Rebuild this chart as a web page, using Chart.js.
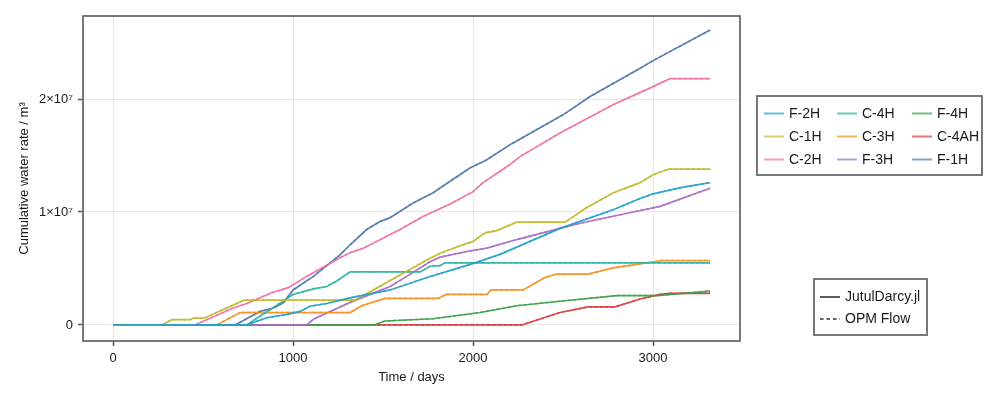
<!DOCTYPE html>
<html>
<head>
<meta charset="utf-8">
<script src="https://cdn.jsdelivr.net/npm/chart.js@4.4.1/dist/chart.umd.min.js"></script>
<style>
html,body{margin:0;padding:0;background:#fff;}
#wrap{width:1000px;height:400px;}
</style>
</head>
<body>
<div id="wrap"><canvas id="c" width="1000" height="400"></canvas></div>
<script>
// ---- data (days, cumulative water in m^3 / 1e6) ----
const wells = ['F-2H','C-1H','C-2H','C-4H','C-3H','F-3H','F-4H','C-4AH','F-1H'];
const wellColors = ['#21a0c8','#c0ba2a','#f071a5','#2bb3a3','#f7901e','#a86cc1','#3c9e47','#d8393b','#4f79ae'];

const F2H_t = [0,743,854,965,1039,1094,1187,1317,1539,1744,1889,2011,2150,2483,2778,2928,3000,3167,3317];
const F2H_v = [0,0,0.64,0.93,1.2,1.66,1.9,2.4,3.1,4.2,4.9,5.5,6.25,8.55,10.2,11.2,11.6,12.2,12.6];

const C1H_t = [0,270,326,428,445,505,728,1345,1761,1817,1909,2000,2067,2131,2242,2511,2632,2780,2928,3000,3089,3317];
const C1H_v = [0,0,0.47,0.47,0.6,0.6,2.2,2.2,5.9,6.35,6.9,7.4,8.15,8.35,9.1,9.1,10.4,11.7,12.6,13.3,13.8,13.8];

const C2H_t = [0,455,667,743,881,973,1076,1261,1317,1391,1594,1722,1872,2000,2056,2205,2261,2483,2778,3000,3094,3317];
const C2H_v = [0,0,1.5,1.9,2.85,3.3,4.3,5.95,6.4,6.8,8.45,9.6,10.7,11.8,12.6,14.2,14.9,17.0,19.5,21.1,21.8,21.8];

const C4H_t = [0,743,1000,1113,1187,1243,1317,1706,1761,1817,1844,3317];
const C4H_v = [0,0,2.7,3.2,3.4,3.9,4.7,4.7,5.2,5.25,5.5,5.5];

const C3H_t = [0,576,706,1317,1381,1511,1806,1850,2078,2100,2278,2400,2461,2639,2778,3048,3317];
const C3H_v = [0,0,1.1,1.1,1.7,2.35,2.35,2.7,2.7,3.1,3.1,4.2,4.5,4.5,5.05,5.7,5.7];

const F3H_t = [0,1076,1113,1317,1539,1631,1761,1817,1965,2076,2243,2483,2594,2889,3039,3317];
const F3H_v = [0,0,0.5,2.0,3.4,4.3,5.6,6.0,6.5,6.8,7.56,8.55,9.0,10.0,10.5,12.1];

const F4H_t = [0,1450,1511,1778,2039,2243,2483,2798,3020,3317];
const F4H_v = [0,0,0.35,0.55,1.1,1.7,2.1,2.6,2.6,3.0];

const C4AH_t = [0,2270,2483,2639,2789,2928,3039,3094,3317];
const C4AH_v = [0,0,1.1,1.6,1.6,2.3,2.7,2.8,2.8];

const F1H_t = [0,678,817,891,946,1000,1113,1261,1317,1409,1483,1539,1667,1778,1889,1983,2074,2215,2500,2648,2926,3000,3317];
const F1H_v = [0,0,1.2,1.5,1.96,3.1,4.3,6.2,7.1,8.45,9.15,9.5,10.8,11.7,12.9,13.9,14.6,16.05,18.6,20.2,22.7,23.4,26.1];

const seriesT = [F2H_t,C1H_t,C2H_t,C4H_t,C3H_t,F3H_t,F4H_t,C4AH_t,F1H_t];
const seriesV = [F2H_v,C1H_v,C2H_v,C4H_v,C3H_v,F3H_v,F4H_v,C4AH_v,F1H_v];

const simulators = ['JutulDarcy.jl','OPM Flow'];
const xTicks = [0,1000,2000,3000];
const yTicks = [0,1e7,2e7];
const yTickLabels = ['0','1×10⁷','2×10⁷'];
const xTitle = 'Time / days';
const yTitle = 'Cumulative water rate / m³';

// ---- build datasets ----
function toPts(t, v){ return t.map((d,i)=>({x:d, y:v[i]*1e6})); }
function withAlpha(hex,a){const n=parseInt(hex.slice(1),16);return `rgba(${n>>16&255},${n>>8&255},${n&255},${a})`;}
const datasets = [];
wells.forEach((w,i)=>{
  datasets.push({label:w, sim:0, data:toPts(seriesT[i],seriesV[i]), borderColor:withAlpha(wellColors[i],0.9),
    borderWidth:1.7, pointRadius:0, tension:0, fill:false});
});
wells.forEach((w,i)=>{
  datasets.push({label:w+' (OPM)', sim:1, data:toPts(seriesT[i],seriesV[i]), borderColor:withAlpha(wellColors[i],0.75),
    borderWidth:1.5, borderDash:[3,2.5], pointRadius:0, tension:0, fill:false});
});

const FONT = "'Liberation Sans', Arial, sans-serif";

const framePlugin = {
  id:'frame',
  afterDraw(chart){
    const ctx = chart.ctx, a = chart.chartArea;
    ctx.save();
    ctx.strokeStyle = '#6a6a6a';
    ctx.lineWidth = 1.8;
    ctx.strokeRect(a.left, a.top, a.right-a.left, a.bottom-a.top);

    // well legend
    const bx=757, by=96, bw=225, bh=79;
    ctx.lineWidth = 1.8;
    ctx.strokeStyle = '#6a6a6a';
    ctx.strokeRect(bx, by, bw, bh);
    ctx.font = '14px ' + FONT;
    ctx.textBaseline = 'middle';
    ctx.fillStyle = '#1a1a1a';
    const colX = [764, 837, 912];
    const rowY = [113.5, 136.5, 159.5];
    for (let i=0;i<wells.length;i++){
      const c = Math.floor(i/3), r = i%3;
      const x = colX[c], y = rowY[r];
      ctx.strokeStyle = withAlpha(wellColors[i],0.7);
      ctx.lineWidth = 2;
      ctx.beginPath(); ctx.moveTo(x,y); ctx.lineTo(x+20,y); ctx.stroke();
      ctx.fillStyle = '#1a1a1a';
      ctx.fillText(wells[i], x+25, y+0.5);
    }
    // simulator legend
    const sx=814, sy=279, sw=113, sh=56;
    ctx.strokeStyle = '#6a6a6a';
    ctx.lineWidth = 1.8;
    ctx.strokeRect(sx, sy, sw, sh);
    const sRow = [297, 319];
    for (let k=0;k<simulators.length;k++){
      ctx.strokeStyle = '#333';
      ctx.lineWidth = 1.6;
      ctx.setLineDash(k===1 ? [3.5,3] : []);
      ctx.beginPath(); ctx.moveTo(820,sRow[k]); ctx.lineTo(840,sRow[k]); ctx.stroke();
      ctx.setLineDash([]);
      ctx.fillStyle = '#1a1a1a';
      ctx.fillText(simulators[k], 845, sRow[k]+0.5);
    }
    ctx.restore();
  }
};

new Chart(document.getElementById('c'), {
  type:'line',
  data:{datasets},
  options:{
    responsive:false,
    animation:false,
    layout:{padding:{left:0, right:260, top:16, bottom:0}},
    plugins:{legend:{display:false}, tooltip:{enabled:false}},
    scales:{
      x:{
        type:'linear', min:-167, max:3483,
        afterBuildTicks(s){ s.ticks = xTicks.map(v=>({value:v})); },
        afterFit(s){ s.height = 59; },
        grid:{color:'#e8e8e8', lineWidth:1, drawTicks:true, tickLength:5, tickColor:'#555', tickWidth:1.5},
        border:{display:false},
        ticks:{color:'#1a1a1a', font:{family:FONT, size:13}, padding:5, maxRotation:0,
          callback:(v)=>String(v)},
        title:{display:true, text:xTitle, color:'#1a1a1a', font:{family:FONT, size:13}, padding:{top:0,bottom:15}}
      },
      y:{
        type:'linear', min:-0.142e7, max:2.735e7,
        afterBuildTicks(s){ s.ticks = yTicks.map(v=>({value:v})); },
        afterFit(s){ s.width = 83; },
        grid:{color:'#e8e8e8', lineWidth:1, drawTicks:true, tickLength:5, tickColor:'#555', tickWidth:1.5},
        border:{display:false},
        ticks:{color:'#1a1a1a', font:{family:FONT, size:13}, padding:5,
          callback:(v)=>{const i=yTicks.indexOf(v); return i>=0?yTickLabels[i]:'';}},
        title:{display:true, text:yTitle, color:'#1a1a1a', font:{family:FONT, size:13}, padding:{top:17,bottom:0}}
      }
    }
  },
  plugins:[framePlugin]
});
</script>
</body>
</html>
